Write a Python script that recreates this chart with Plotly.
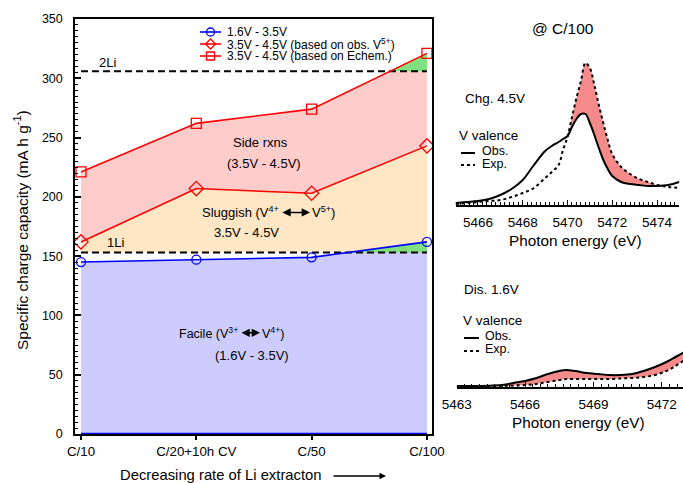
import numpy as np
import plotly.graph_objects as go

W, H = 683, 483
FONT = "Liberation Sans, Arial, sans-serif"

# ---------------- data ----------------
categories = ["C/10", "C/20+10h CV", "C/50", "C/100"]
cap_facile = [145, 147, 149, 162]          # 1.6V - 3.5V
cap_obs_v5 = [162, 207, 203, 243]          # 3.5V - 4.5V (based on obs. V5+)
cap_echem = [221, 262, 274, 321]           # 3.5V - 4.5V (based on Echem.)
li1 = 153
li2 = 306
y_ticks = [0, 50, 100, 150, 200, 250, 300, 350]

chg_energy = [5465, 5465.5, 5466, 5466.5, 5467, 5467.5, 5468, 5468.5, 5469, 5469.3, 5469.6, 5469.8,
              5470.0, 5470.2, 5470.4, 5470.6, 5470.8, 5471.0, 5471.2, 5471.4, 5471.6, 5471.8, 5472.0,
              5472.4, 5472.8, 5473.2, 5473.6, 5474.0, 5474.5, 5475]
chg_obs = [2, 3, 4, 6, 10, 16, 25, 40, 54, 59, 63, 66,
           69, 78, 86, 91, 91, 82, 70, 57, 45, 36, 29,
           23, 21, 20, 19, 19, 20, 23]
chg_exp = [1, 2, 3, 4, 5, 8, 12, 17, 27, 33, 40, 55,
           68, 88, 107, 124, 142, 137, 120, 100, 82, 65, 51,
           38, 31, 26, 23, 20, 18, 17]
chg_ticks = [5466, 5468, 5470, 5472, 5474]

dis_energy = [5463, 5464, 5465, 5465.5, 5466, 5466.5, 5467, 5467.5, 5467.8, 5468.2, 5468.7, 5469.2,
              5469.7, 5470.2, 5470.7, 5471.2, 5471.7, 5472.2, 5472.6, 5473.0]
dis_obs = [1, 1, 2, 4, 6, 9, 13, 16, 17, 16, 14, 13, 12, 12, 13, 16, 20, 25, 30, 35]
dis_exp = [0.5, 0.5, 1, 1.5, 2, 3, 5, 7, 8, 8, 8, 8, 8, 8.5, 9, 10, 12, 16, 21, 27]
dis_ticks = [5463, 5466, 5469, 5472]

# ---------------- colours ----------------
C_BLUE_FILL = "#ccccff"
C_GREEN = "#80e080"
C_ORANGE = "#ffe6c4"
C_PINK = "#ffcccc"
C_SPEC_FILL = "#f48a8a"


def fx(px):
    return px / W


def fy(py):
    return (H - py) / H


fig = go.Figure()

# ---------------- left panel fills ----------------
idx = np.arange(len(categories))
xi = np.linspace(0, len(categories) - 1, 601)
b = np.interp(xi, idx, cap_facile)
d = np.interp(xi, idx, cap_obs_v5)
s = np.interp(xi, idx, cap_echem)
l1 = np.full_like(xi, li1, dtype=float)
l2 = np.full_like(xi, li2, dtype=float)


def band(lo, hi, color):
    fig.add_trace(go.Scatter(
        x=np.concatenate([xi, xi[::-1]]), y=np.concatenate([lo, hi[::-1]]),
        fill="toself", fillcolor=color, mode="lines", line=dict(width=0),
        hoverinfo="skip", showlegend=False, xaxis="x", yaxis="y"))


band(np.zeros_like(xi), b, C_BLUE_FILL)
band(l1, np.maximum(b, l1), C_GREEN)
band(np.maximum(b, l1), d, C_ORANGE)
band(d, np.minimum(s, l2), C_PINK)
band(l2, np.maximum(s, l2), C_GREEN)

# base blue line
fig.add_trace(go.Scatter(x=[idx[0], idx[-1]], y=[0, 0], mode="lines",
                         line=dict(color="#0000ff", width=2.5), showlegend=False,
                         hoverinfo="skip", xaxis="x", yaxis="y"))

# 1Li, 2Li dashed lines
for lv in (li1, li2):
    fig.add_trace(go.Scatter(x=[idx[0], idx[-1]], y=[lv, lv], mode="lines",
                             line=dict(color="black", width=2, dash="7px,4px"),
                             showlegend=False, hoverinfo="skip", xaxis="x", yaxis="y"))

# data lines
series = [
    (cap_facile, "#0000ff", "circle-open", 9),
    (cap_obs_v5, "#ff0000", "diamond-open", 11),
    (cap_echem, "#ff0000", "square-open", 10),
]
for vals, col, sym, sz in series:
    fig.add_trace(go.Scatter(x=idx, y=vals, mode="lines+markers",
                             line=dict(color=col, width=1.6),
                             marker=dict(symbol=sym, size=sz, color=col, line=dict(width=1.3, color=col)),
                             showlegend=False, xaxis="x", yaxis="y"))


# ---------------- right panels ----------------
def spectrum(en, obs, exp, xa, ya, shade_exp_above):
    en = np.array(en, dtype=float)
    obs = np.array(obs, dtype=float)
    exp = np.array(exp, dtype=float)
    if shade_exp_above:
        base, top = obs, np.maximum(exp, obs)
    else:
        base, top = exp, np.maximum(obs, exp)
    fig.add_trace(go.Scatter(x=en, y=base, mode="lines", line=dict(width=0, shape="spline", color="rgba(0,0,0,0)"),
                             showlegend=False, hoverinfo="skip", xaxis=xa, yaxis=ya))
    fig.add_trace(go.Scatter(x=en, y=top, mode="lines", fill="tonexty",
                             fillcolor=C_SPEC_FILL, line=dict(width=0, shape="spline", color="rgba(0,0,0,0)"),
                             showlegend=False, hoverinfo="skip", xaxis=xa, yaxis=ya))
    fig.add_trace(go.Scatter(x=en, y=obs, mode="lines", line=dict(color="black", width=2, shape="spline"),
                             showlegend=False, xaxis=xa, yaxis=ya))
    fig.add_trace(go.Scatter(x=en, y=exp, mode="lines", line=dict(color="black", width=2, dash="dot", shape="spline"),
                             showlegend=False, xaxis=xa, yaxis=ya))


spectrum(chg_energy, chg_obs, chg_exp, "x2", "y2", True)
spectrum(dis_energy, dis_obs, dis_exp, "x3", "y3", False)

# ---------------- axes ----------------
axis_common = dict(showline=True, linecolor="black", showgrid=False, zeroline=False, tickcolor="black")
spec_font = dict(family=FONT, size=13.5, color="black")

fig.update_layout(
    width=W, height=H, margin=dict(l=0, r=0, t=0, b=0, pad=0, autoexpand=False),
    paper_bgcolor="white", plot_bgcolor="white",
    font=dict(family=FONT, color="black"),
    showlegend=False,
    xaxis=dict(domain=[fx(75), fx(432)], range=[-0.052, 3.044], anchor="y",
               tickmode="array", tickvals=list(idx), ticktext=categories,
               ticks="outside", ticklen=4, tickwidth=1.5, linewidth=1.5, mirror=True,
               tickfont=dict(family=FONT, size=13.3, color="black"), **axis_common),
    yaxis=dict(domain=[fy(434), fy(19)], range=[0, 350], anchor="x",
               tickmode="array", tickvals=y_ticks,
               ticks="inside", ticklen=6, tickwidth=1.5, linewidth=1.5, mirror=True,
               ticklabelstandoff=8,
               minor=dict(dtick=5, ticks="inside", ticklen=3, tickcolor="black", tickwidth=1),
               tickfont=dict(family=FONT, size=12.5, color="black"), **axis_common),
    xaxis2=dict(domain=[fx(455.6), fx(679.4)], range=[5465, 5475], anchor="y2",
                tickmode="array", tickvals=chg_ticks,
                ticks="inside", ticklen=5, tickwidth=1.3, linewidth=2, ticklabelstandoff=4,
                minor=dict(dtick=0.2, ticks="inside", ticklen=3, tickcolor="black", tickwidth=1),
                tickfont=spec_font, **axis_common),
    yaxis2=dict(domain=[fy(205), fy(45)], range=[0, 160], anchor="x2", visible=False),
    xaxis3=dict(domain=[fx(456.7), 1.0], range=[5463, 5472.93], anchor="y3",
                tickmode="array", tickvals=dis_ticks,
                ticks="inside", ticklen=5, tickwidth=1.3, linewidth=2, ticklabelstandoff=4,
                minor=dict(dtick=1 / 3, ticks="inside", ticklen=3, tickcolor="black", tickwidth=1),
                tickfont=spec_font, **axis_common),
    yaxis3=dict(domain=[fy(387), fy(290)], range=[0, 97], anchor="x3", visible=False),
)

# ---------------- annotations ----------------
ann = []


def ptext(px, py, text, size=12, xanchor="center"):
    ann.append(dict(x=fx(px), y=fy(py), xref="paper", yref="paper", text=text, showarrow=False,
                    xanchor=xanchor, yanchor="middle", borderpad=0,
                    font=dict(family=FONT, size=size, color="black")))


def ltext(px, py, text, size=13, xanchor="center"):
    # position given in pixels, converted to data coords of the left panel
    x = (px - 81.0) / 115.33
    y = (434.0 - py) / 1.1829
    ann.append(dict(x=x, y=y, xref="x", yref="y", text=text, showarrow=False,
                    xanchor=xanchor, yanchor="middle", borderpad=0,
                    font=dict(family=FONT, size=size, color="black")))


def larrow(px0, px1, py):
    x0 = (px0 - 81.0) / 115.33
    x1 = (px1 - 81.0) / 115.33
    y = (434.0 - py) / 1.1829
    ann.append(dict(x=x1, y=y, ax=x0, ay=y, xref="x", yref="y", axref="x", ayref="y", text="",
                    showarrow=True, arrowhead=2, arrowside="end+start", arrowsize=1.1,
                    arrowwidth=1.5, arrowcolor="black"))


ltext(108, 63, "2Li", 13)
ltext(116, 243, "1Li", 13)
ltext(261, 143, "Side rxns", 13)
ltext(264, 164, "(3.5V - 4.5V)", 13)
ltext(280, 213, "Sluggish (V<sup>4+</sup>", 13, "right")
larrow(281, 310, 213)
ltext(311, 213, "V<sup>5+</sup>)", 13, "left")
ltext(247, 233, "3.5V - 4.5V", 13)
ltext(239, 333, "Facile (V<sup>3+</sup>", 12.5, "right")
larrow(240, 260, 333)
ltext(261, 333, "V<sup>4+</sup>)", 12.5, "left")
ltext(252, 356, "(1.6V - 3.5V)", 13)

# axis titles
ann.append(dict(x=fx(21), y=fy(230), xref="paper", yref="paper", xanchor="center", yanchor="middle",
                text="Specific charge capacity (mA h g<sup>-1</sup>)",
                showarrow=False, textangle=-90, font=dict(family=FONT, size=15.5, color="black")))
ptext(221, 475, "Decreasing rate of Li extracton", 14.8)
ann.append(dict(x=fx(386), y=fy(476), ax=-54, ay=0, xref="paper", yref="paper",
                axref="pixel", ayref="pixel", text="", showarrow=True, arrowhead=2,
                arrowsize=1, arrowwidth=1.3, arrowcolor="black"))

# right panel texts
ptext(563, 29, "@ C/100", 15.5)
ptext(464, 98, "Chg. 4.5V", 13.5, "left")
ptext(458, 135, "V valence", 13.5, "left")
ptext(481, 151, "Obs.", 12.5, "left")
ptext(481, 164, "Exp.", 12.5, "left")
ptext(575, 240, "Photon energy (eV)", 15.3)

ptext(463, 289, "Dis. 1.6V", 13.5, "left")
ptext(462, 320, "V valence", 13.5, "left")
ptext(484, 336, "Obs.", 12.5, "left")
ptext(484, 349, "Exp.", 12.5, "left")
ptext(578, 422, "Photon energy (eV)", 15.3)

# custom legend text (left panel)
legend_labels = ["1.6V - 3.5V", "3.5V - 4.5V (based on obs. V<sup>5+</sup>)", "3.5V - 4.5V (based on Echem.)"]
legend_y = [32, 44, 56]
for lab, ly in zip(legend_labels, legend_y):
    ptext(226, ly, lab, 12, "left")

fig.update_layout(annotations=ann)

# ---------------- shapes: legend glyphs ----------------
shapes = []
leg_cols = ["#0000ff", "#ff0000", "#ff0000"]
for col, ly, kind in zip(leg_cols, legend_y, ["circle", "diamond", "square"]):
    shapes.append(dict(type="line", xref="paper", yref="paper", x0=fx(200), x1=fx(221), y0=fy(ly), y1=fy(ly),
                       line=dict(color=col, width=1.6)))
    common = dict(xref="paper", yref="paper", xsizemode="pixel", ysizemode="pixel",
                  xanchor=fx(210.5), yanchor=fy(ly), line=dict(color=col, width=1.3),
                  fillcolor="rgba(0,0,0,0)")
    if kind == "circle":
        shapes.append(dict(type="circle", x0=-4, x1=4, y0=-4, y1=4, **common))
    elif kind == "square":
        shapes.append(dict(type="rect", x0=-4, x1=4, y0=-4, y1=4, **common))
    else:
        shapes.append(dict(type="path", path="M 0 -5 L 5 0 L 0 5 L -5 0 Z", **common))

# spectra legend line glyphs
shapes.append(dict(type="line", xref="paper", yref="paper", x0=fx(461), x1=fx(475), y0=fy(153), y1=fy(153),
                   line=dict(color="black", width=2)))
shapes.append(dict(type="line", xref="paper", yref="paper", x0=fx(461), x1=fx(475), y0=fy(165), y1=fy(165),
                   line=dict(color="black", width=2, dash="dot")))
shapes.append(dict(type="line", xref="paper", yref="paper", x0=fx(464), x1=fx(479), y0=fy(338), y1=fy(338),
                   line=dict(color="black", width=2)))
shapes.append(dict(type="line", xref="paper", yref="paper", x0=fx(464), x1=fx(479), y0=fy(351), y1=fy(351),
                   line=dict(color="black", width=2, dash="dot")))

fig.update_layout(shapes=shapes)

fig.write_html("out.html")
